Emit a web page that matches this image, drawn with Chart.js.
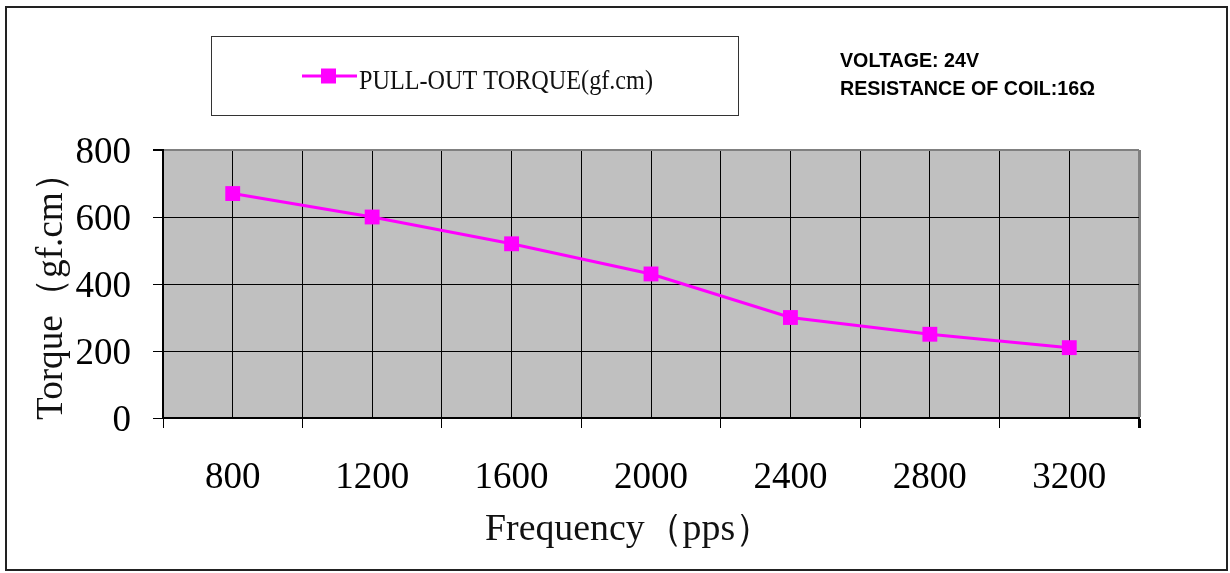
<!DOCTYPE html>
<html>
<head>
<meta charset="utf-8">
<script src="https://cdn.jsdelivr.net/npm/chart.js@4/dist/chart.umd.min.js"></script>
<style>
  html, body { margin: 0; padding: 0; background: #fff; }
  #wrap { width: 1230px; height: 573px; position: relative; }
</style>
</head>
<body>
<div id="wrap"><canvas id="c" width="1230" height="573"></canvas></div>
<script>
// ---- data ----
const frequencies = [800, 1200, 1600, 2000, 2400, 2800, 3200];
const torque = [670, 600, 520, 430, 300, 250, 210];
const seriesLabel = 'PULL-OUT TORQUE(gf.cm)';
const xTitle = 'Frequency（pps）';
const yTitle = 'Torque（gf.cm）';
const noteLines = ['VOLTAGE: 24V', 'RESISTANCE OF COIL:16Ω'];
const xMin = 600, xMax = 3400, xStep = 200;
const yMin = 0, yMax = 800, yStep = 200;

const MAGENTA = '#FF00FF';
const SERIF = '"Liberation Serif", "DejaVu Serif", serif';

function fitText(ctx, text, x, y, font, width, align) {
  ctx.save();
  ctx.font = font;
  const w = ctx.measureText(text).width;
  const s = width / w;
  ctx.translate(x, y);
  ctx.scale(s, 1);
  ctx.textAlign = align || 'left';
  ctx.fillText(text, 0, 0);
  ctx.restore();
}

const decor = {
  id: 'decor',
  beforeDraw(chart) {
    const { ctx, chartArea: a } = chart;
    ctx.save();
    ctx.fillStyle = '#fff';
    ctx.fillRect(0, 0, chart.width, chart.height);
    ctx.fillStyle = '#C0C0C0';
    ctx.fillRect(a.left, a.top, a.right - a.left, a.bottom - a.top);
    ctx.restore();
  },
  afterDraw(chart) {
    const { ctx } = chart;
    ctx.save();
    // outer frame
    ctx.strokeStyle = '#222';
    ctx.lineWidth = 2;
    ctx.strokeRect(6, 7, 1221, 563);
    // legend box
    ctx.strokeStyle = '#333';
    ctx.lineWidth = 1;
    ctx.strokeRect(211.5, 36.5, 527, 79);
    ctx.strokeStyle = MAGENTA;
    ctx.lineWidth = 3;
    ctx.beginPath();
    ctx.moveTo(302, 76);
    ctx.lineTo(357, 76);
    ctx.stroke();
    ctx.fillStyle = MAGENTA;
    ctx.fillRect(321, 68.5, 15, 15);
    ctx.fillStyle = '#111';
    ctx.textBaseline = 'alphabetic';
    fitText(ctx, seriesLabel, 359, 89, '28px ' + SERIF, 294, 'left');
    // notes
    ctx.fillStyle = '#000';
    fitText(ctx, noteLines[0], 840, 67, 'bold 20px "Liberation Sans", Arial, sans-serif', 139, 'left');
    fitText(ctx, noteLines[1], 840, 95, 'bold 20px "Liberation Sans", Arial, sans-serif', 255, 'left');
    // axis titles
    ctx.fillStyle = '#111';
    fitText(ctx, xTitle, 485, 540, '38px ' + SERIF, 288, 'left');
    ctx.save();
    ctx.translate(62, 420);
    ctx.rotate(-Math.PI / 2);
    fitText(ctx, yTitle, 0, 0, '38px ' + SERIF, 265, 'left');
    ctx.restore();
    ctx.restore();
  }
};

const isLabeled = v => (v - 800) % 400 === 0;

new Chart(document.getElementById('c'), {
  type: 'line',
  data: {
    datasets: [{
      label: seriesLabel,
      data: frequencies.map((f, i) => ({ x: f, y: torque[i] })),
      borderColor: MAGENTA,
      backgroundColor: MAGENTA,
      borderWidth: 3,
      pointStyle: 'rect',
      pointRadius: 10.5,
      pointHoverRadius: 10.5,
      pointBorderWidth: 0,
      tension: 0,
      clip: false
    }]
  },
  options: {
    responsive: false,
    animation: false,
    events: [],
    layout: { padding: { top: 150, right: 91, left: 0, bottom: 0 } },
    plugins: { legend: { display: false }, tooltip: { enabled: false }, title: { display: false } },
    scales: {
      x: {
        type: 'linear',
        min: xMin, max: xMax,
        afterFit(s) { s.height = 573 - 418; },
        afterBuildTicks(s) {
          const t = [];
          for (let v = xMin; v <= xMax; v += xStep) t.push({ value: v });
          s.ticks = t;
        },
        ticks: {
          autoSkip: false, maxRotation: 0, minRotation: 0,
          color: '#000',
          font: { family: SERIF, size: 37 },
          padding: 28,
          callback: v => isLabeled(v) ? String(v) : ''
        },
        grid: {
          color: c => (c.tick && c.tick.value === xMax) ? '#808080' : '#000',
          lineWidth: c => (c.tick && c.tick.value === xMax) ? 3 : 1,
          tickColor: c => (c.tick && isLabeled(c.tick.value)) ? 'rgba(0,0,0,0)' : '#000',
          tickLength: 10,
          drawOnChartArea: true
        },
        border: { color: '#000', width: 2 }
      },
      y: {
        min: yMin, max: yMax,
        afterFit(s) { s.width = 163; },
        ticks: {
          stepSize: yStep,
          color: '#000',
          font: { family: SERIF, size: 37 },
          padding: 22,
          labelOffset: 3
        },
        grid: {
          color: c => (c.tick && c.tick.value === yMax) ? '#808080' : '#000',
          lineWidth: c => (c.tick && c.tick.value === yMax) ? 2 : 1,
          tickColor: '#000',
          tickLength: 10
        },
        border: { color: '#000', width: 2 }
      }
    }
  },
  plugins: [decor]
});
</script>
</body>
</html>
